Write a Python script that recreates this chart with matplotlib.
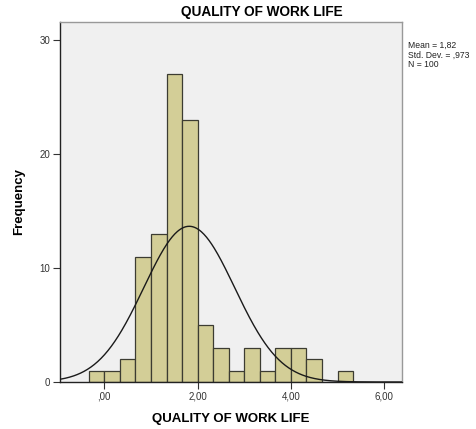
import numpy as np
import matplotlib.pyplot as plt

# histogram of QUALITY OF WORK LIFE (bin width 1/3)
bin_edges = [-1/3, 0, 1/3, 2/3, 1, 4/3, 5/3, 2, 7/3, 8/3, 3, 10/3, 11/3, 4, 13/3, 14/3, 5, 16/3]
counts = [1, 1, 2, 11, 13, 27, 23, 5, 3, 1, 3, 1, 3, 3, 2, 0, 1]

mean_val = 1.82
std_val = 0.973
n_obs = 100

x_ticks = [0, 2, 4, 6]
x_tick_labels = [',00', '2,00', '4,00', '6,00']
y_ticks = [0, 10, 20, 30]

plt.rcParams['font.family'] = ['Liberation Sans', 'DejaVu Sans']

fig = plt.figure(figsize=(4.76, 4.29), dpi=100)
ax = fig.add_axes([0.126, 0.1096, 0.7185, 0.8391])
ax.set_facecolor('#f0f0f0')

lefts = np.array(bin_edges[:-1])
widths = np.diff(bin_edges)
ax.bar(lefts, counts, width=widths, align='edge', color='#d3ce97',
       edgecolor='#3c3c32', linewidth=0.9, zorder=2)

# fitted normal curve
xmin, xmax = -0.95, 6.38
xs = np.linspace(xmin, xmax, 400)
bw = widths[0]
ys = n_obs * bw / (std_val * np.sqrt(2 * np.pi)) * np.exp(-0.5 * ((xs - mean_val) / std_val) ** 2)
ax.plot(xs, ys, color='#1a1a1a', linewidth=1.0, zorder=3)

ax.set_xlim(xmin, xmax)
ax.set_ylim(0, 31.6)
ax.set_xticks(x_ticks)
ax.set_xticklabels(x_tick_labels)
ax.set_yticks(y_ticks)
ax.tick_params(axis='both', labelsize=7, colors='#333333', length=5, width=0.8, pad=2)

for side in ['top', 'right']:
    ax.spines[side].set_color('#999999')
ax.spines['left'].set_color('#222222')
ax.spines['bottom'].set_color('#222222')
for s in ax.spines.values():
    s.set_linewidth(1.0)

ax.set_xlabel('QUALITY OF WORK LIFE', fontsize=9.5, fontweight='bold', labelpad=8)
ax.set_ylabel('Frequency', fontsize=9.5, fontweight='bold', labelpad=10)
fig.text(181 / 476, 0.972, 'QUALITY OF WORK LIFE', fontsize=9.8, fontweight='bold',
         ha='left', va='center')

stats = 'Mean = 1,82\nStd. Dev. = ,973\nN = 100'
fig.text(0.857, 0.905, stats, fontsize=6.2, ha='left', va='top', linespacing=1.1, color='#222222')

fig.savefig('out.png', dpi=100)
